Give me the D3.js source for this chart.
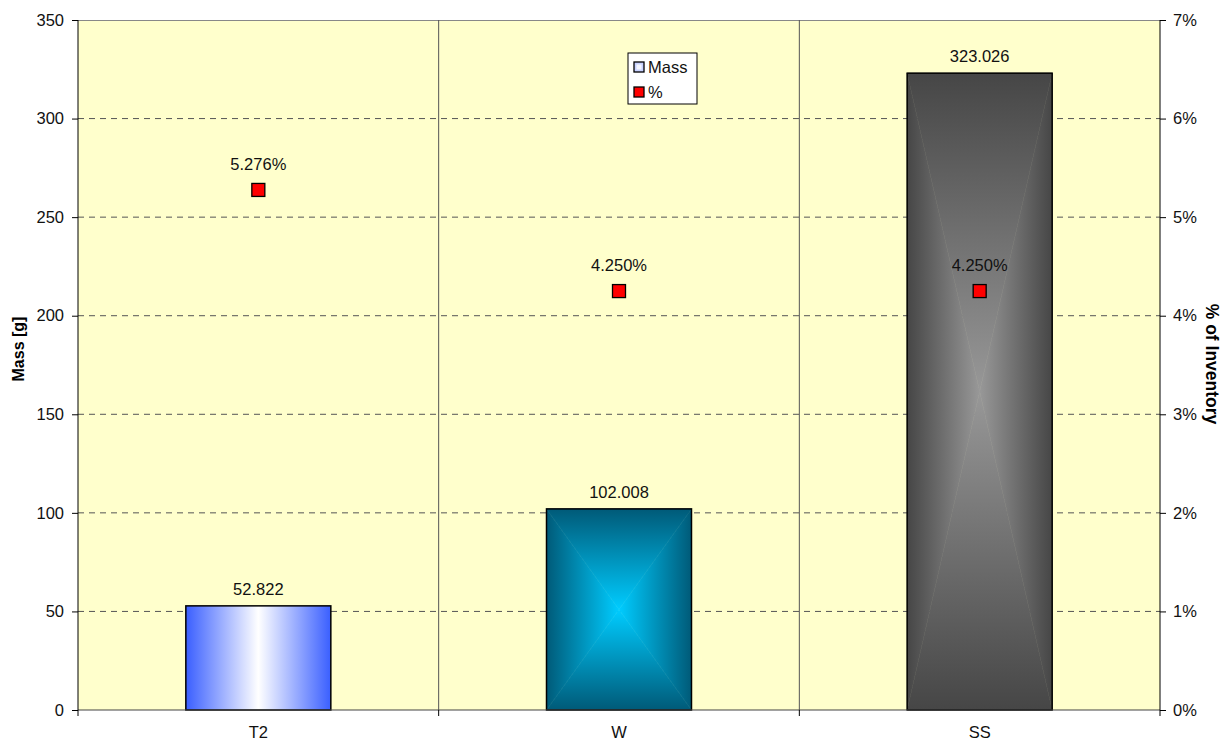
<!DOCTYPE html>
<html><head><meta charset="utf-8">
<script src="https://cdn.jsdelivr.net/npm/d3@7"></script>
<style>body{margin:0;background:#fff;} text{font-family:"Liberation Sans",Arial,sans-serif;}</style>
</head><body>
<svg id="c" width="1229" height="742"></svg>
<script>
const categories = ["T2", "W", "SS"];
const massValues = [52.822, 102.008, 323.026];
const pctValues = [5.276, 4.250, 4.250];
const massLabels = ["52.822", "102.008", "323.026"];
const pctLabels = ["5.276%", "4.250%", "4.250%"];
const leftTicks = [0, 50, 100, 150, 200, 250, 300, 350];
const rightTicks = [0, 1, 2, 3, 4, 5, 6, 7];

const FS = 16.5;
const svg = d3.select("#c");
const L = 78, R = 1160, T = 20, B = 710;
const x = d3.scaleBand().domain(categories).range([L, R]).paddingInner(0).paddingOuter(0);
const yL = d3.scaleLinear().domain([0, 350]).range([B, T]);
const yR = d3.scaleLinear().domain([0, 7]).range([B, T]);
const barW = x.bandwidth() * 0.402;

const defs = svg.append("defs");
const gT2 = defs.append("linearGradient").attr("id", "gT2").attr("x1", 0).attr("x2", 1).attr("y1", 0).attr("y2", 0);
[[0, "#3a5fff"], [0.5, "#ffffff"], [1, "#3a5fff"]].forEach(s => gT2.append("stop").attr("offset", s[0]).attr("stop-color", s[1]));

function lin(id, horiz, reverse, c0, c1) {
  const g = defs.append("linearGradient").attr("id", id)
    .attr("x1", 0).attr("y1", 0).attr("x2", horiz ? 1 : 0).attr("y2", horiz ? 0 : 1);
  g.append("stop").attr("offset", 0).attr("stop-color", reverse ? c1 : c0);
  g.append("stop").attr("offset", 1).attr("stop-color", reverse ? c0 : c1);
}
const rectGrad = { W: ["#005a78", "#00ccff"], SS: ["#464646", "#989898"] };
Object.entries(rectGrad).forEach(([k, [edge, center]]) => {
  lin(k + "_t", false, false, edge, center);
  lin(k + "_b", false, true, edge, center);
  lin(k + "_l", true, false, edge, center);
  lin(k + "_r", true, true, edge, center);
});

svg.append("rect").attr("x", L).attr("y", T).attr("width", R - L).attr("height", B - T).attr("fill", "#ffffcc");

svg.append("g").selectAll("line").data(leftTicks.filter(d => d > 0 && d < 350)).join("line")
  .attr("x1", L).attr("x2", R).attr("y1", d => yL(d)).attr("y2", d => yL(d))
  .attr("stroke", "#555").attr("stroke-width", 1).attr("stroke-dasharray", "6,5");
svg.append("line").attr("x1", L).attr("x2", R).attr("y1", T + 0.5).attr("y2", T + 0.5).attr("stroke", "#888");

svg.append("g").selectAll("line").data(categories.slice(1)).join("line")
  .attr("x1", d => x(d)).attr("x2", d => x(d)).attr("y1", T).attr("y2", B)
  .attr("stroke", "#555").attr("stroke-width", 1);

const bars = svg.append("g");
categories.forEach((c, i) => {
  const x0 = x(c) + (x.bandwidth() - barW) / 2, x1 = x0 + barW;
  const y0 = yL(massValues[i]), y1 = yL(0);
  const cx = (x0 + x1) / 2, cy = (y0 + y1) / 2;
  if (c === "T2") {
    bars.append("rect").attr("x", x0).attr("y", y0).attr("width", barW).attr("height", y1 - y0).attr("fill", "url(#gT2)");
  } else {
    const tris = [
      ["_t", [[x0, y0], [x1, y0], [cx, cy]]],
      ["_b", [[x0, y1], [x1, y1], [cx, cy]]],
      ["_l", [[x0, y0], [x0, y1], [cx, cy]]],
      ["_r", [[x1, y0], [x1, y1], [cx, cy]]]
    ];
    tris.forEach(([s, pts]) => {
      bars.append("polygon").attr("points", pts.map(p => p.join(",")).join(" "))
        .attr("fill", `url(#${c}${s})`).attr("stroke", `url(#${c}${s})`).attr("stroke-width", 0.6);
    });
  }
  bars.append("rect").attr("x", x0).attr("y", y0).attr("width", barW).attr("height", y1 - y0)
    .attr("fill", "none").attr("stroke", "#000").attr("stroke-width", 1.5);
  bars.append("text").attr("x", cx).attr("y", y0 - 11).attr("text-anchor", "middle")
    .attr("font-size", FS).attr("fill", "#111").text(massLabels[i]);
});

svg.append("line").attr("x1", L).attr("x2", R).attr("y1", B).attr("y2", B).attr("stroke", "#444").attr("stroke-width", 1.2);
svg.append("line").attr("x1", L).attr("x2", L).attr("y1", T).attr("y2", B + 6).attr("stroke", "#000");
svg.append("line").attr("x1", R).attr("x2", R).attr("y1", T).attr("y2", B + 6).attr("stroke", "#000");

const gl = svg.append("g").attr("transform", `translate(${L},0)`)
  .call(d3.axisLeft(yL).tickValues(leftTicks).tickSize(6).tickPadding(8).tickFormat(d3.format("d")));
gl.select(".domain").remove();
gl.selectAll("text").attr("font-size", FS).attr("fill", "#111").style("font-family", "Liberation Sans, Arial");
gl.selectAll("line").attr("stroke", "#000");

const gr = svg.append("g").attr("transform", `translate(${R},0)`)
  .call(d3.axisRight(yR).tickValues(rightTicks).tickSize(6).tickPadding(7).tickFormat(d => d + "%"));
gr.select(".domain").remove();
gr.selectAll("text").attr("font-size", FS).attr("fill", "#111").style("font-family", "Liberation Sans, Arial");
gr.selectAll("line").attr("stroke", "#000");

const gb = svg.append("g").attr("transform", `translate(0,${B})`)
  .call(d3.axisBottom(x).tickSize(0).tickPadding(16));
gb.select(".domain").remove();
gb.selectAll("text").attr("font-size", FS).attr("fill", "#111").style("font-family", "Liberation Sans, Arial");
svg.append("g").selectAll("line").data(categories.slice(1)).join("line")
  .attr("x1", d => x(d)).attr("x2", d => x(d)).attr("y1", B).attr("y2", B + 6).attr("stroke", "#000");

const pts = svg.append("g");
categories.forEach((c, i) => {
  const cx = x(c) + x.bandwidth() / 2, cy = yR(pctValues[i]);
  pts.append("rect").attr("x", cx - 6.5).attr("y", cy - 6.5).attr("width", 13).attr("height", 13)
    .attr("fill", "#ff0000").attr("stroke", "#000").attr("stroke-width", 1.3);
  pts.append("text").attr("x", cx).attr("y", cy - 20).attr("text-anchor", "middle")
    .attr("font-size", FS).attr("fill", "#111").text(pctLabels[i]);
});

svg.append("text").attr("transform", "translate(24,349) rotate(-90)").attr("text-anchor", "middle")
  .attr("font-size", 16).attr("font-weight", "bold").attr("fill", "#000").text("Mass [g]");
svg.append("text").attr("transform", "translate(1206,364) rotate(90)").attr("text-anchor", "middle")
  .attr("font-size", 17.5).attr("font-weight", "bold").attr("fill", "#000").text("% of Inventory");

const lg = svg.append("g");
lg.append("rect").attr("x", 628).attr("y", 53).attr("width", 69).attr("height", 51).attr("fill", "#fff").attr("stroke", "#000").attr("stroke-width", 1);
const legItems = [{ name: "Mass", type: "bar" }, { name: "%", type: "pt" }];
legItems.forEach((d, i) => {
  const yy = 67 + i * 25;
  lg.append("rect").attr("x", 634).attr("y", yy - 5).attr("width", 10).attr("height", 10)
    .attr("fill", d.type === "bar" ? "#c8d2ff" : "#ff0000").attr("stroke", "#000").attr("stroke-width", 1.3);
  if (d.type === "bar") lg.append("rect").attr("x", 636.5).attr("y", yy - 2.5).attr("width", 5).attr("height", 5).attr("fill", "#f4f6ff");
  lg.append("text").attr("x", 648).attr("y", yy + 6).attr("font-size", FS).attr("fill", "#111").text(d.name);
});
</script>
</body></html>
